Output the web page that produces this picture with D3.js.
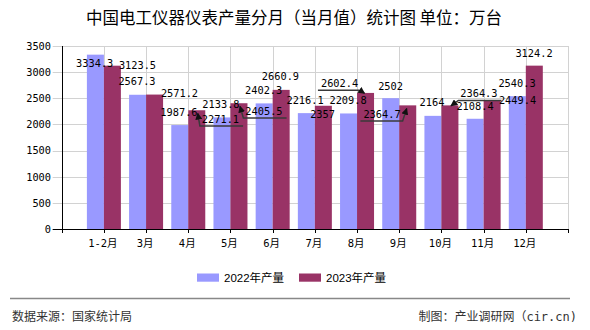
<!DOCTYPE html>
<html><head><meta charset="utf-8">
<script src="https://cdn.jsdelivr.net/npm/d3@7"></script>
<style>body{margin:0;background:#fff} svg{display:block}</style>
</head><body><svg id="c" width="590" height="330"></svg>
<script>
// ---- data ----
const categories = ["1-2月","3月","4月","5月","6月","7月","8月","9月","10月","11月","12月"];
const values2022 = [3334.3,2567.3,1987.6,2133.8,2402.3,2216.1,2209.8,2502,2164,2108.4,2540.3];
const values2023 = [3123.5,2571.2,2271.1,2405.5,2660.9,2357,2602.4,2364.7,2364.3,2449.4,3124.2];
const seriesNames = ["2022年产量","2023年产量"];
const yTicks = [0,500,1000,1500,2000,2500,3000,3500];
const titleText = "中国电工仪器仪表产量分月（当月值）统计图 单位：万台";
const sourceText = "数据来源：国家统计局";
const creditText = "制图：产业调研网（cir.cn)";

// ---- label placement (offsets from bar top, px) ----
const labelOffsets2022 = [[-0.7,8.8],[-0.6,-13],[-0.8,-12.6],[-1,-13.2],[-0.5,-12.6],[-1.3,-12.5],[-0.5,-12.8],[-0.2,-12.3],[-0.9,-13.1],[-0.1,-12.8],[-0.3,-12.9]];
const labelOffsets2023 = [[25.1,-0.7],[24.9,-1.3],[23.7,8.7],[25,7.8],[-0.7,-13.2],[-0.8,8.2],[-26,-9.6],[-25.7,8.6],[29,-12],[25.4,-0.2],[-0.3,-12.3]];
const leader2023 = [false,false,true,true,false,false,true,true,true,false,false];

(function(){
const colors = ["#9999FF","#993366"];
const svg = d3.select("#c");
const pL = 61.7, pR = 568, pT = 46, pB = 229;

const x = d3.scaleLinear().domain([0, categories.length + 1]).range([pL, pR]);
const y = d3.scaleLinear().domain([0, 3500]).range([pB, pT]);
const barW = 17;

svg.append("defs").append("marker")
  .attr("id","arr").attr("viewBox","0 0 10 10").attr("refX",9).attr("refY",5)
  .attr("markerWidth",7).attr("markerHeight",7).attr("markerUnits","userSpaceOnUse")
  .attr("orient","auto")
  .append("path").attr("d","M0,0 L10,5 L0,10 z").attr("fill","#111");

svg.append("text").attr("x",294).attr("y",23.6).attr("text-anchor","middle")
  .attr("font-family","'Noto Sans CJK SC',sans-serif").attr("font-size",16.5).attr("fill","#000")
  .text(titleText);

const g = svg.append("g");
g.selectAll("line.hg").data(yTicks).join("line")
  .attr("x1",52.7).attr("x2",pR).attr("y1",d=>Math.round(y(d))+0.5).attr("y2",d=>Math.round(y(d))+0.5)
  .attr("stroke","#d2d2d2").attr("stroke-width",1);
const vIdx = d3.range(1, categories.length + 2);
g.selectAll("line.vg").data(vIdx).join("line")
  .attr("x1",d=>Math.round(x(d))+0.5).attr("x2",d=>Math.round(x(d))+0.5)
  .attr("y1",pT).attr("y2",pB)
  .attr("stroke","#d2d2d2").attr("stroke-width",1);

const series = [values2022, values2023];
series.forEach((vals, s) => {
  svg.append("g").selectAll("rect").data(vals).join("rect")
    .attr("x",(d,i)=> x(i+1) + (s===0 ? -barW : 0))
    .attr("width",barW)
    .attr("y",d=>y(d))
    .attr("height",d=>y(0)-y(d))
    .attr("fill",colors[s]);
});

svg.append("line").attr("x1",Math.round(pL)+0.5).attr("x2",Math.round(pL)+0.5).attr("y1",pT).attr("y2",pB+4)
  .attr("stroke","#000");
svg.append("line").attr("x1",52.7).attr("x2",pR).attr("y1",Math.round(pB)+0.5).attr("y2",Math.round(pB)+0.5)
  .attr("stroke","#000");
svg.append("g").selectAll("line").data(d3.range(0, categories.length + 2)).join("line")
  .attr("x1",d=>Math.round(x(d))+0.5).attr("x2",d=>Math.round(x(d))+0.5)
  .attr("y1",pB).attr("y2",pB+4).attr("stroke","#000");

const monoFont = "'DejaVu Sans Mono','Noto Sans CJK SC',monospace";
svg.append("g").selectAll("text").data(yTicks).join("text")
  .attr("x",51).attr("y",d=>y(d)+3.8).attr("text-anchor","end")
  .attr("font-family",monoFont).attr("font-size",10.3).attr("fill","#000")
  .text(d=>d);
svg.append("g").selectAll("text").data(categories).join("text")
  .attr("x",(d,i)=>x(i+1)-1).attr("y",246.6).attr("text-anchor","middle")
  .attr("font-family",monoFont).attr("font-size",10.5).attr("fill","#000")
  .text(d=>d);

const fs = 10.3, charW = fs*0.602;
function drawLabels(vals, offs, s, leaders){
  const lg = svg.append("g");
  vals.forEach((v,i)=>{
    const bx = x(i+1) + (s===0 ? -barW/2 : barW/2);
    const bt = y(v);
    const cx = bx + offs[i][0], cy = bt + offs[i][1];
    const txt = String(v);
    if (leaders && leaders[i]) {
      const w = txt.length*charW;
      const uy = cy + 7;
      const labelRight = offs[i][0] > 0;
      const nearX = labelRight ? cx - w/2 - 2 : cx + w/2 + 2;
      const farX = labelRight ? cx + w/2 + 4 : cx - w/2 - 3;
      const tipY = bt + (uy > bt ? 3 : 0.5);
      const tipX = bx + (labelRight ? 1 : -1);
      lg.append("polyline")
        .attr("points",[[farX,uy],[nearX,uy],[tipX,tipY]].map(p=>p.join(",")).join(" "))
        .attr("fill","none").attr("stroke","#3a3a3a").attr("stroke-width",1.5)
        .attr("marker-end","url(#arr)");
    }
    lg.append("text").attr("x",cx).attr("y",cy+3.7).attr("text-anchor","middle")
      .attr("font-family",monoFont).attr("font-size",fs).attr("fill","#000")
      .text(txt);
  });
}
drawLabels(values2022, labelOffsets2022, 0, null);
drawLabels(values2023, labelOffsets2023, 1, leader2023);

const legX = [197, 299];
seriesNames.forEach((n,s)=>{
  svg.append("rect").attr("x",legX[s]).attr("y",273.5).attr("width",22).attr("height",8.2).attr("fill",colors[s]);
  svg.append("text").attr("x",legX[s]+27).attr("y",281.8)
    .attr("font-family","'Liberation Sans','Noto Sans CJK SC',sans-serif").attr("font-size",11.5).attr("fill","#000")
    .text(n);
});

svg.append("line").attr("x1",10).attr("x2",570).attr("y1",298.5).attr("y2",298.5).attr("stroke","#888").attr("stroke-width",1.3);
svg.append("text").attr("x",12).attr("y",321).attr("font-family","'Noto Sans CJK SC',sans-serif")
  .attr("font-size",12).attr("fill","#333").text(sourceText);
svg.append("text").attr("x",577).attr("y",321).attr("text-anchor","end").attr("font-family",monoFont)
  .attr("font-size",12).attr("fill","#333").text(creditText);
})();
</script></body></html>
